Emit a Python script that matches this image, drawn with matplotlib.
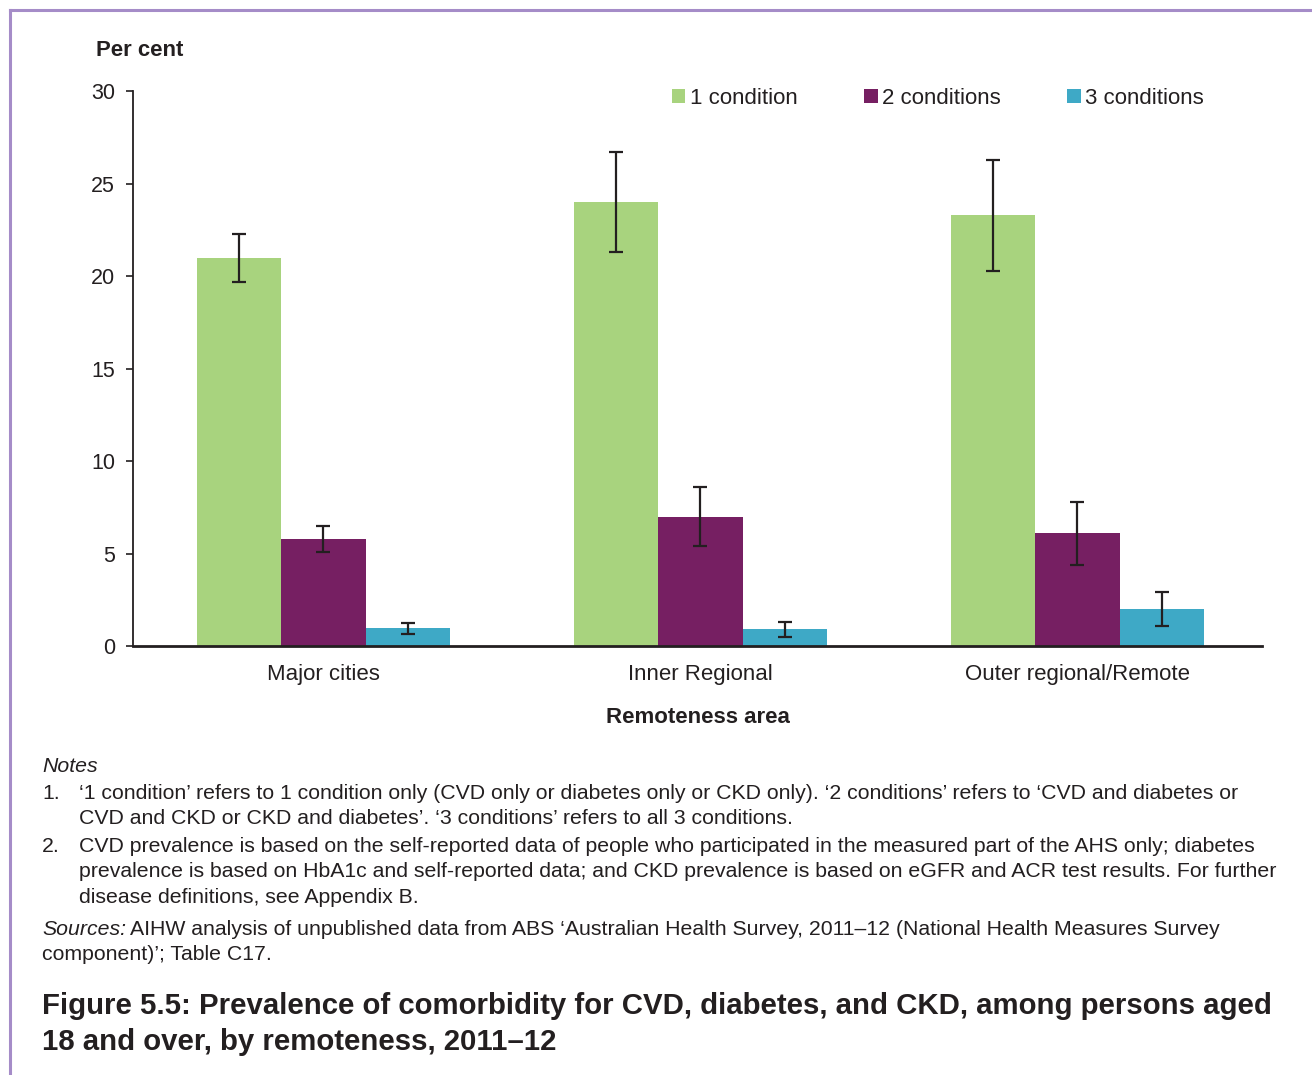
import matplotlib
matplotlib.use("Agg")
import matplotlib.pyplot as plt
import numpy as np
from matplotlib.lines import Line2D

# data
areas = ["Major cities", "Inner Regional", "Outer regional/Remote"]
series = ["1 condition", "2 conditions", "3 conditions"]
one_cond = [21.0, 24.0, 23.3]
one_err = [1.3, 2.7, 3.0]
two_cond = [5.8, 7.0, 6.1]
two_err = [0.7, 1.6, 1.7]
three_cond = [0.95, 0.9, 2.0]
three_err = [0.3, 0.4, 0.9]
yticks = [0, 5, 10, 15, 20, 25, 30]

colors = ["#a8d37e", "#761f62", "#3ea9c6"]
ink = "#231f20"

plt.rcParams['font.family'] = ['Liberation Sans', 'DejaVu Sans']

fig = plt.figure(figsize=(13.12, 10.75), dpi=100)
ax = fig.add_axes([0.1014, 0.399, 0.8606, 0.5163])

x = np.arange(len(areas))
w = 0.2235
vals = [one_cond, two_cond, three_cond]
errs = [one_err, two_err, three_err]
for i in range(3):
    ax.bar(x + (i - 1) * w, vals[i], width=w, color=colors[i], label=series[i],
           yerr=errs[i], capsize=5, error_kw=dict(ecolor=ink, elinewidth=1.6, capthick=1.6))

ax.set_xlim(-0.505, 2.49)
ax.set_ylim(0, 30)
ax.set_yticks(yticks)
ax.set_xticks(x)
ax.set_xticklabels(areas, fontsize=16, color=ink)
ax.tick_params(axis='y', labelsize=15.5, colors=ink, length=5, width=1.2, direction='out', pad=8)
ax.tick_params(axis='x', length=0, pad=13)
for s in ["top", "right"]:
    ax.spines[s].set_visible(False)
ax.spines["left"].set_color(ink)
ax.spines["bottom"].set_color(ink)
ax.spines["left"].set_linewidth(1.3)
ax.spines["bottom"].set_linewidth(2)

ax.set_xlabel("Remoteness area", fontsize=16, fontweight='bold', color=ink, labelpad=16)
fig.text(96 / 1312, 1 - 50 / 1075, "Per cent", fontsize=15.9, fontweight='bold', color=ink,
         ha='left', va='center')

leg = ax.legend(loc='center left', bbox_to_anchor=((672 - 133) / 1129, 1 - 7 / 555), ncol=3,
                frameon=False, fontsize=16, handlelength=0.6, handleheight=0.6,
                handletextpad=0.2, columnspacing=3.0, borderaxespad=0, borderpad=0,
                labelcolor=ink)

# notes
fs = 15.3
def ypx(p):
    return 1 - (p + 1.5) / 1075

fig.text(42 / 1312, ypx(765), "Notes", fontsize=fs, style='italic', color=ink, va='center')
note_lines = [
    (792, "1.", "\u20181 condition\u2019 refers to 1 condition only (CVD only or diabetes only or CKD only). \u20182 conditions\u2019 refers to \u2018CVD and diabetes or"),
    (817, "", "CVD and CKD or CKD and diabetes\u2019. \u20183 conditions\u2019 refers to all 3 conditions."),
    (845, "2.", "CVD prevalence is based on the self-reported data of people who participated in the measured part of the AHS only; diabetes"),
    (870, "", "prevalence is based on HbA1c and self-reported data; and CKD prevalence is based on eGFR and ACR test results. For further"),
    (896, "", "disease definitions, see Appendix B."),
]
for yy, num, txt in note_lines:
    if num:
        fig.text(42 / 1312, ypx(yy), num, fontsize=fs, color=ink, va='center')
    fig.text(79 / 1312, ypx(yy), txt, fontsize=fs, color=ink, va='center')

src = fig.text(42 / 1312, ypx(928), "Sources:", fontsize=fs, style='italic', color=ink, va='center')
fig.canvas.draw()
bb = src.get_window_extent()
fig.text((bb.x1 + 4) / 1312, ypx(928),
         "AIHW analysis of unpublished data from ABS \u2018Australian Health Survey, 2011\u201312 (National Health Measures Survey",
         fontsize=fs, color=ink, va='center')
fig.text(42 / 1312, ypx(953), "component)\u2019; Table C17.", fontsize=fs, color=ink, va='center')

fig.text(42 / 1312, ypx(1004), "Figure 5.5: Prevalence of comorbidity for CVD, diabetes, and CKD, among persons aged",
         fontsize=21.2, fontweight='bold', color=ink, va='center')
fig.text(42 / 1312, ypx(1040), "18 and over, by remoteness, 2011\u201312",
         fontsize=21.2, fontweight='bold', color=ink, va='center')

# frame lines
border = "#a58cc8"
fig.add_artist(Line2D([10 / 1312, 1.0], [1 - 10 / 1075, 1 - 10 / 1075], color=border, lw=2.2))
fig.add_artist(Line2D([10 / 1312, 10 / 1312], [1 - 10 / 1075, 0], color=border, lw=2.2))

fig.savefig("out.png", dpi=100)
